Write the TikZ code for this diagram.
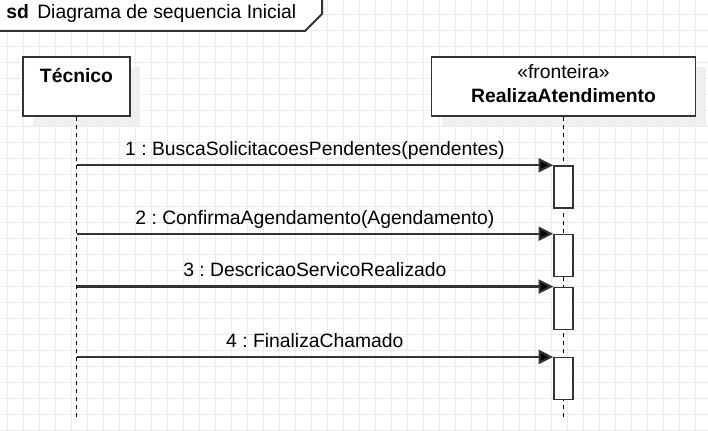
\documentclass[tikz,border=0pt]{standalone}
\usepackage{fontspec}
\setmainfont{Liberation Sans}
\usetikzlibrary{arrows.meta,calc,shadows}
\frenchspacing

\definecolor{gridgray}{HTML}{EBEBEB}
\definecolor{linegray}{HTML}{333333}
\definecolor{shadowgray}{HTML}{EFEFEF}

\tikzset{
  txt/.style={font=\fontsize{14.5pt}{17pt}\selectfont, inner sep=0pt},
  txtb/.style={font=\fontsize{14.5pt}{17pt}\selectfont\bfseries, inner sep=0pt},
  objbox/.style={draw=linegray, line width=1.25pt, fill=white, minimum height=44.25pt,
    drop shadow={shadow xshift=7.5pt, shadow yshift=-7.5pt, fill=shadowgray, opacity=1}},
  actbar/.style={draw=linegray, line width=1.1pt, fill=white, minimum width=14.25pt,
    minimum height=31.5pt, inner sep=0pt},
  lifeline/.style={line width=1.2pt, dash pattern=on 3pt off 3pt},
  msg/.style={draw=linegray, line width=1.6pt, -{Triangle[length=11pt,width=10.5pt,fill=black]}},
}

\begin{document}
\begin{tikzpicture}[x=0.75pt, y=-0.75pt]
    \useasboundingbox (0,0) rectangle (708,431);

    % Background grid
    \foreach \gx in {0,...,43} {
        \draw[gridgray, line width=0.75pt] (7.5+16*\gx,0) -- (7.5+16*\gx,431);
    }
    \foreach \gy in {0,...,26} {
        \draw[gridgray, line width=0.75pt] (0,14.5+16*\gy) -- (708,14.5+16*\gy);
    }

    % Frame tag
    \fill[white] (0,0) -- (322,0) -- (322,14) -- (305,31) -- (0,31) -- cycle;
    \draw[linegray, line width=1.5pt] (0,31) -- (305,31) -- (322,14) -- (322,0);
    \node[txtb, anchor=base west] (sdtag) at (6,18.5) {sd};
    \node[txt, anchor=base west] (sdname) at (37,18.5) {Diagrama de sequencia Inicial};

    % Objects
    \node[objbox, minimum width=80.25pt] (tecnico) at (76.5,86.5) {};
    \node[objbox, minimum width=198pt] (realiza) at (563.5,86.5) {};
    \node[txtb, anchor=base] (tecnicoName) at (76.5,83) {Técnico};
    \node[txt, anchor=base] (realizaStereo) at (563.5,79) {«fronteira»};
    \node[txtb, anchor=base] (realizaName) at (563.5,103) {RealizaAtendimento};

    % Lifelines
    \coordinate (tecnicoEnd) at (76.5,419);
    \coordinate (realizaEnd) at (563.5,419);
    \draw[lifeline] (tecnico.south) -- (tecnicoEnd);
    \draw[lifeline] (realiza.south) -- (realizaEnd);

    % Activation bars
    \foreach \name/\ypos in {act1/187, act2/255.5, act3/308.3, act4/378.7} {
        \node[actbar] (\name) at (563.5,\ypos) {};
    }

    % Messages
    \foreach \i/\lbl in {
        1/{1 : BuscaSolicitacoesPendentes(pendentes)},
        2/{2 : ConfirmaAgendamento(Agendamento)},
        3/{3 : DescricaoServicoRealizado},
        4/{4 : FinalizaChamado}
    } {
        \draw[msg] (tecnico |- act\i.north west) -- (act\i.north west)
            node[txt, midway, anchor=base, yshift=7.2pt] (msg\i) {\lbl};
    }
\end{tikzpicture}
\end{document}
